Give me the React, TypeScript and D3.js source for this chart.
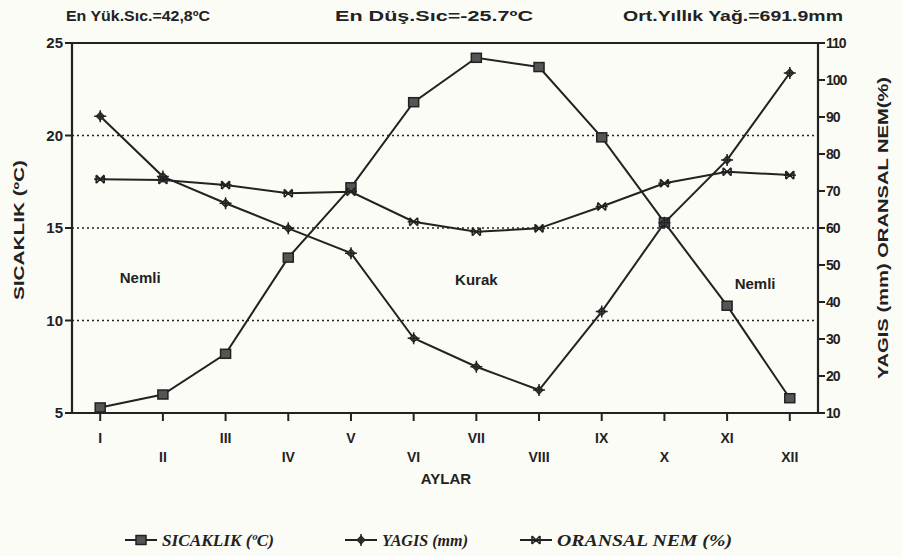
import { useEffect, useRef } from 'react'
import * as d3 from 'd3'

const months = ['I', 'II', 'III', 'IV', 'V', 'VI', 'VII', 'VIII', 'IX', 'X', 'XI', 'XII']
const sicaklik = [5.3, 6.0, 8.2, 13.4, 17.2, 21.8, 24.2, 23.7, 19.9, 15.3, 10.8, 5.8]
const yagis = [90.2, 73.9, 66.7, 59.9, 53.2, 30.2, 22.5, 16.2, 37.4, 61.4, 78.4, 101.9]
const nem = [73.2, 73.0, 71.6, 69.4, 69.8, 61.7, 59.0, 59.9, 65.8, 72.1, 75.2, 74.3]
const leftTicks = [5, 10, 15, 20, 25]
const rightTicks = [10, 20, 30, 40, 50, 60, 70, 80, 90, 100, 110]
const gridTicks = [10, 15, 20]
const headerTexts = ['En Yük.Sıc.=42,8ºC', 'En Düş.Sıc=-25.7ºC', 'Ort.Yıllık Yağ.=691.9mm']
const regionLabels = [
  { text: 'Nemli', month: 'I', value: 12.3, shift: 40 },
  { text: 'Kurak', month: 'VII', value: 12.2, shift: 0 },
  { text: 'Nemli', month: 'XI', value: 12.0, shift: 28 },
]
const legendItems = ['SICAKLIK (ºC)', 'YAGIS (mm)', 'ORANSAL  NEM (%)']

const INK = '#222'
const FONT = 'Liberation Sans, Arial, sans-serif'

export default function App() {
  const svgRef = useRef<SVGSVGElement>(null)

  useEffect(() => {
    if (!svgRef.current) return
    const svg = d3.select(svgRef.current)
    svg.selectAll('*').remove()

    const left = 72, right = 818, top = 43, bottom = 413

    const x = d3.scalePoint<string>().domain(months).range([left, right]).padding(0.45)
    const yL = d3.scaleLinear().domain([5, 25]).range([bottom, top])
    const yR = d3.scaleLinear().domain([10, 110]).range([bottom, top])

    svg.append('rect').attr('width', 902).attr('height', 556).attr('fill', '#fcfcf7')

    // header notes
    const headerX = [66, 335, 623]
    const headerW = [144, 198, 220]
    headerTexts.forEach((t, i) => {
      svg.append('text').attr('x', headerX[i]).attr('y', 21)
        .attr('font-family', FONT).attr('font-size', 15).attr('font-weight', 'bold').attr('fill', INK)
        .attr('textLength', headerW[i]).attr('lengthAdjust', 'spacingAndGlyphs')
        .text(t)
    })

    // dotted grid
    gridTicks.forEach(v => {
      svg.append('line').attr('x1', left).attr('x2', right).attr('y1', yL(v)).attr('y2', yL(v))
        .attr('stroke', INK).attr('stroke-width', 1.6).attr('stroke-dasharray', '2,3')
    })

    // frame
    const frame = svg.append('g').attr('stroke', INK).attr('stroke-width', 2.2).attr('fill', 'none')
    frame.append('line').attr('x1', left).attr('x2', right).attr('y1', top).attr('y2', top)
    frame.append('line').attr('x1', left).attr('x2', right).attr('y1', bottom).attr('y2', bottom)
    frame.append('line').attr('x1', left).attr('x2', left).attr('y1', top).attr('y2', bottom)
    frame.append('line').attr('x1', right).attr('x2', right).attr('y1', top).attr('y2', bottom)

    // left axis
    leftTicks.forEach(v => {
      svg.append('line').attr('x1', left - 7).attr('x2', left).attr('y1', yL(v)).attr('y2', yL(v))
        .attr('stroke', INK).attr('stroke-width', 2)
      svg.append('text').attr('x', left - 9).attr('y', yL(v)).attr('dy', '0.35em')
        .attr('text-anchor', 'end').attr('font-family', FONT).attr('font-weight', 'bold')
        .attr('font-size', 15).attr('fill', INK).text(v)
    })
    // right axis
    rightTicks.forEach(v => {
      svg.append('line').attr('x1', right).attr('x2', right + 7).attr('y1', yR(v)).attr('y2', yR(v))
        .attr('stroke', INK).attr('stroke-width', 2)
      svg.append('text').attr('x', right + 8).attr('y', yR(v)).attr('dy', '0.35em')
        .attr('font-family', FONT).attr('font-weight', 'bold').attr('font-size', 14)
        .attr('letter-spacing', -1).attr('fill', INK).text(v)
    })
    // x axis
    months.forEach((m, i) => {
      const xx = x(m)!
      svg.append('line').attr('x1', xx).attr('x2', xx).attr('y1', bottom).attr('y2', bottom + 8)
        .attr('stroke', INK).attr('stroke-width', 2)
      svg.append('text').attr('x', xx).attr('y', i % 2 === 0 ? 443 : 462)
        .attr('text-anchor', 'middle').attr('font-family', FONT).attr('font-weight', 'bold')
        .attr('font-size', 14).attr('fill', INK).text(m)
    })

    // axis titles
    svg.append('text').attr('x', 446).attr('y', 484).attr('text-anchor', 'middle')
      .attr('font-family', FONT).attr('font-size', 15).attr('font-weight', 'bold').attr('fill', INK).text('AYLAR')
    svg.append('text').attr('transform', 'translate(24,230) rotate(-90)').attr('text-anchor', 'middle')
      .attr('font-family', FONT).attr('font-size', 15).attr('font-weight', 'bold').attr('fill', INK)
      .attr('textLength', 140).attr('lengthAdjust', 'spacingAndGlyphs').text('SICAKLIK (ºC)')
    svg.append('text').attr('transform', 'translate(888,228) rotate(-90)').attr('text-anchor', 'middle')
      .attr('font-family', FONT).attr('font-size', 15).attr('font-weight', 'bold').attr('fill', INK)
      .attr('textLength', 302).attr('lengthAdjust', 'spacingAndGlyphs').text('YAGIS (mm) ORANSAL NEM(%)')

    // region labels
    regionLabels.forEach(r => {
      svg.append('text').attr('x', x(r.month)! + r.shift).attr('y', yL(r.value))
        .attr('dy', '0.35em').attr('text-anchor', 'middle').attr('font-family', FONT)
        .attr('font-size', 15).attr('font-weight', 'bold').attr('fill', INK).text(r.text)
    })

    const line = (ys: (v: number) => number, vals: number[]) =>
      d3.line<number>().x((_, i) => x(months[i])!).y(v => ys(v))(vals)!

    const markers = {
      square: (g: d3.Selection<SVGGElement, unknown, null, undefined>) =>
        g.append('rect').attr('x', -5).attr('y', -4.5).attr('width', 10).attr('height', 9)
          .attr('fill', '#555').attr('stroke', INK).attr('stroke-width', 1.5),
      plus: (g: d3.Selection<SVGGElement, unknown, null, undefined>) => {
        g.append('path').attr('d', 'M0,-4 L4,0 L0,4 L-4,0 Z').attr('fill', '#555').attr('stroke', INK).attr('stroke-width', 1.2)
        g.append('path').attr('d', 'M-6,0 L6,0 M0,-6 L0,6').attr('stroke', INK).attr('stroke-width', 1.5)
      },
      star: (g: d3.Selection<SVGGElement, unknown, null, undefined>) =>
        g.append('path').attr('d', 'M-6,0 L6,0 M-4,-4 L4,4 M-4,4 L4,-4 M-4,-4 L-4,4 M4,-4 L4,4')
          .attr('stroke', INK).attr('stroke-width', 1.6).attr('fill', 'none'),
    }

    const series = [
      { vals: sicaklik, scale: yL, marker: markers.square },
      { vals: yagis, scale: yR, marker: markers.plus },
      { vals: nem, scale: yR, marker: markers.star },
    ]
    series.forEach(s => {
      svg.append('path').attr('d', line(s.scale, s.vals)).attr('fill', 'none')
        .attr('stroke', INK).attr('stroke-width', 2)
      s.vals.forEach((v, i) => {
        const g = svg.append('g').attr('transform', `translate(${x(months[i])},${s.scale(v)})`)
        s.marker(g as any)
      })
    })

    // legend
    const legendX = [125, 345, 520]
    const legendW = [112, 86, 175]
    legendItems.forEach((t, i) => {
      const lx = legendX[i]
      svg.append('line').attr('x1', lx).attr('x2', lx + 32).attr('y1', 540).attr('y2', 540)
        .attr('stroke', INK).attr('stroke-width', 2)
      const g = svg.append('g').attr('transform', `translate(${lx + 16},540)`)
      series[i].marker(g as any)
      svg.append('text').attr('x', lx + 37).attr('y', 546)
        .attr('font-family', 'Liberation Serif, Times New Roman, serif').attr('font-style', 'italic')
        .attr('font-weight', 'bold').attr('font-size', 16).attr('fill', INK)
        .attr('textLength', legendW[i]).attr('lengthAdjust', 'spacingAndGlyphs').text(t)
    })
  }, [])

  return (
    <div style={{ position: 'fixed', left: 0, top: 0 }}>
      <svg ref={svgRef} width={902} height={556} style={{ display: 'block' }} />
    </div>
  )
}
